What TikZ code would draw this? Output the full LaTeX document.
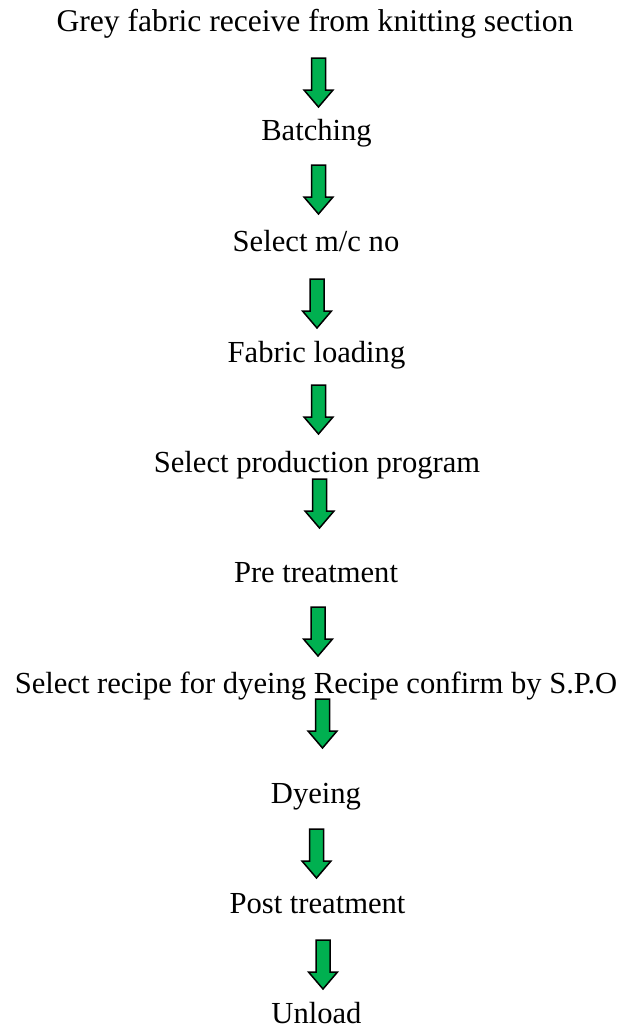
\documentclass[tikz,border=0pt]{standalone}
\usepackage{fontspec}
\setmainfont{Liberation Serif}
\definecolor{arrowgreen}{RGB}{0,176,80}
\tikzset{
  lbl/.style={anchor=base, inner sep=0pt, font=\fontsize{30.6}{36}\selectfont},
  pics/blockarrow/.style={code={
    \draw[fill=arrowgreen, draw=black, line width=1.5pt, line join=miter]
      (-7,0) -- (7,0) -- (7,32) -- (14.5,32) -- (0,49) -- (-14.5,32) -- (-7,32) -- cycle;
  }}
}
\begin{document}
\begin{tikzpicture}[x=1pt,y=-1pt]
\useasboundingbox (0,0) rectangle (624,1029);
\node[lbl, font=\fontsize{31.6}{36}\selectfont] (t1) at (315,31) {Grey fabric receive from knitting section};
\node[lbl] (t2) at (316.5,140) {Batching};
\node[lbl] (t3) at (316,251) {Select m/c no};
\node[lbl] (t4) at (316.5,362) {Fabric loading};
\node[lbl] (t5) at (317,472) {Select production program};
\node[lbl] (t6) at (316,582) {Pre treatment};
\node[lbl] (t7) at (316,693) {Select recipe for dyeing Recipe confirm by S.P.O};
\node[lbl] (t8) at (316,803) {Dyeing};
\node[lbl] (t9) at (317.5,913) {Post treatment};
\node[lbl] (t10) at (316.5,1023) {Unload};
\pic at (318.5,58) {blockarrow};
\pic at (318.5,165) {blockarrow};
\pic at (317,279) {blockarrow};
\pic at (318.5,385) {blockarrow};
\pic at (319.5,479) {blockarrow};
\pic at (318,607) {blockarrow};
\pic at (322.5,699) {blockarrow};
\pic at (316.5,829) {blockarrow};
\pic at (323,940) {blockarrow};
\end{tikzpicture}
\end{document}
